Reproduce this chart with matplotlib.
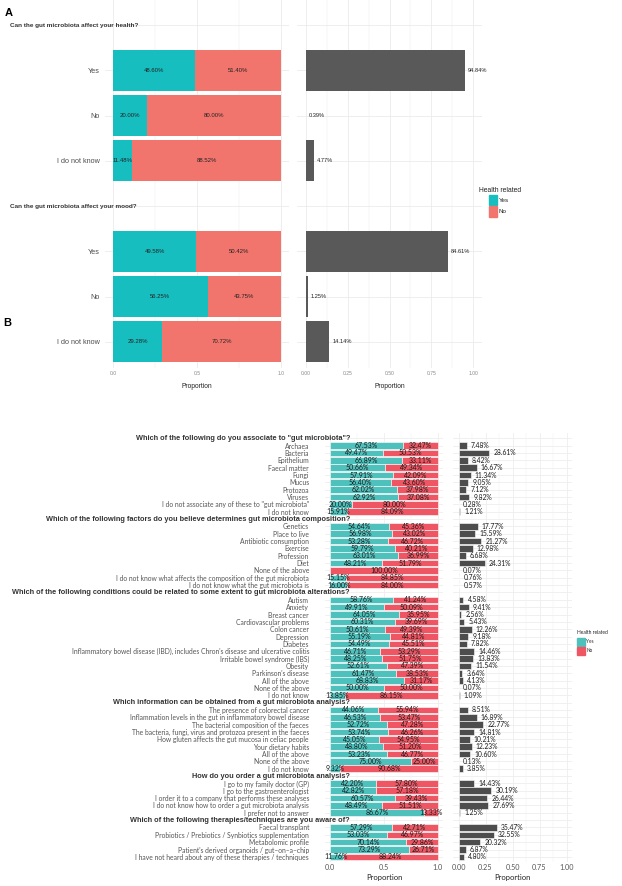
import numpy as np
import matplotlib
matplotlib.use('Agg')
import matplotlib.pyplot as plt
import matplotlib.transforms as mtransforms
from matplotlib.patches import Rectangle

plt.rcParams['font.family'] = ['Liberation Sans', 'DejaVu Sans']

W, H = 622, 886

# ======= PANEL A DATA =======
a_titles = ['Can the gut microbiota affect your health?',
            'Can the gut microbiota affect your mood?']
a_answers = ['Yes', 'No', 'I do not know']
health_yes = [48.60, 20.00, 11.48]
health_share = [94.84, 0.39, 4.77]
mood_yes = [49.58, 56.25, 29.28]
mood_share = [84.61, 1.25, 14.14]

# ======= PANEL B DATA =======
q1_title = 'Which of the following do you associate to "gut microbiota"?'
q1_items = ['Archaea', 'Bacteria', 'Epithelium', 'Faecal matter', 'Fungi', 'Mucus',
            'Protozoa', 'Viruses', 'I do not associate any of these to "gut microbiota"',
            'I do not know']
q1_yes = [67.53, 49.47, 66.89, 50.66, 57.91, 56.40, 62.02, 62.92, 20.00, 15.91]
q1_share = [7.48, 28.61, 8.42, 16.67, 11.34, 9.05, 7.12, 9.82, 0.28, 1.21]

q2_title = 'Which of the following factors do you believe determines gut microbiota composition?'
q2_items = ['Genetics', 'Place to live', 'Antibiotic consumption', 'Exercise', 'Profession',
            'Diet', 'None of the above',
            'I do not know what affects the composition of the gut microbiota',
            'I do not know what the gut microbiota is']
q2_yes = [54.64, 56.98, 53.28, 59.79, 63.01, 48.21, 0.00, 15.15, 16.00]
q2_share = [17.77, 15.59, 21.27, 12.98, 6.68, 24.31, 0.07, 0.76, 0.57]

q3_title = 'Which of the following conditions could be related to some extent to gut microbiota alterations?'
q3_items = ['Autism', 'Anxiety', 'Breast cancer', 'Cardiovascular problems', 'Colon cancer',
            'Depression', 'Diabetes',
            "Inflammatory bowel disease (IBD), includes Chron's disease and ulcerative colitis",
            'Irritable bowel syndrome (IBS)', 'Obesity', "Parkinson's disease",
            'All of the above', 'None of the above', 'I do not know']
q3_yes = [58.76, 49.91, 64.05, 60.31, 50.61, 55.19, 54.49, 46.71, 48.25, 52.61, 61.47,
          68.83, 50.00, 13.85]
q3_share = [4.58, 9.41, 2.56, 5.43, 12.26, 9.18, 7.82, 14.46, 13.83, 11.54, 3.64,
            4.13, 0.07, 1.09]

q4_title = 'Which information can be obtained from a gut microbiota analysis?'
q4_items = ['The presence of colorectal cancer',
            'Inflammation levels in the gut in inflammatory bowel disease',
            'The bacterial composition of the faeces',
            'The bacteria, fungi, virus and protozoa present in the faeces',
            'How gluten affects the gut mucosa in celiac people',
            'Your dietary habits', 'All of the above', 'None of the above', 'I do not know']
q4_yes = [44.06, 46.53, 52.72, 53.74, 45.05, 48.80, 53.23, 75.00, 9.32]
q4_share = [8.51, 16.89, 22.77, 14.81, 10.21, 12.23, 10.60, 0.13, 3.85]

q5_title = 'How do you order a gut microbiota analysis?'
q5_items = ['I go to my family doctor (GP)', 'I go to the gastroenterologist',
            'I order it to a company that performs these analyses',
            'I do not know how to order a gut microbiota analysis',
            'I prefer not to answer']
q5_yes = [42.20, 42.82, 60.57, 48.49, 86.67]
q5_share = [14.43, 30.19, 26.44, 27.69, 1.25]

q6_title = 'Which of the following therapies/techniques are you aware of?'
q6_items = ['Faecal transplant', 'Probiotics / Prebiotics / Synbiotics supplementation',
            'Metabolomic profile', "Patient's derived organoids / gut\u2013on\u2013a\u2013chip",
            'I have not heard about any of these therapies / techniques']
q6_yes = [57.29, 53.03, 70.14, 73.29, 11.76]
q6_share = [35.47, 32.55, 20.32, 6.87, 4.80]

legend_labels = ['Yes', 'No']


def build_rows(blocks):
    # one title row followed by one row per answer
    labels, titles, yes, share = [], [], [], []
    for title, items, y, s in blocks:
        labels.append('')
        titles.append((len(labels) - 1, title))
        yes.append(np.nan)
        share.append(np.nan)
        labels += items
        yes += y
        share += s
    return labels, titles, np.array(yes) / 100, np.array(share) / 100


def px_axes(fig, x0, y0, x1, y1):
    return fig.add_axes([x0 / W, 1 - y1 / H, (x1 - x0) / W, (y1 - y0) / H])


def style_axes(ax, nrows, ylim, major, minor, grid_c):
    ax.set_xlim(-0.05, 1.05)
    ax.set_ylim(*ylim)
    ax.set_xticks(major)
    ax.set_xticks(minor, minor=True)
    ax.set_yticks(np.arange(nrows))
    ax.grid(which='major', color=grid_c, lw=0.6)
    ax.grid(which='minor', axis='x', color=grid_c, lw=0.3)
    ax.set_axisbelow(True)
    for sp in ax.spines.values():
        sp.set_visible(False)
    ax.tick_params(which='both', length=0)


def px_legend(fig, x, y, colors, title, fs_title, fs, key_dx, key_w, key_h, gap, **kw):
    # legend drawn in pixel units (ggplot style, keys under the title)
    fig.text(x / W, 1 - y / H, title, fontsize=fs_title, color='#222222', va='center', **kw)
    top = y + 5
    for c, lab in zip(colors, legend_labels):
        fig.add_artist(Rectangle(((x + key_dx) / W, 1 - (top + key_h) / H), key_w / W,
                                 key_h / H, transform=fig.transFigure, color=c))
        fig.text((x + key_dx + key_w + 1.5) / W, 1 - (top + key_h / 2) / H, lab,
                 fontsize=fs, color='#222222', va='center', **kw)
        top += key_h + gap


fig = plt.figure(figsize=(W / 100, H / 100), dpi=100)

# ======= PANEL A =======
a_labels, a_tit, a_yes, a_share = build_rows([
    (a_titles[0], a_answers, health_yes, health_share),
    (a_titles[1], a_answers, mood_yes, mood_share)])
nA = len(a_labels)
ylimA = (7.58, -0.553)
teal_a, red_a, grey_a = '#17BEC0', '#F2756D', '#595959'
rows = np.arange(nA)

axA1 = px_axes(fig, 104.6, 0, 289.4, 368)
style_axes(axA1, nA, ylimA, [0, 0.5, 1.0], [0.25, 0.75], '#EBEBEB')
no_a = 1 - a_yes
axA1.barh(rows, a_yes, height=0.9, color=teal_a)
axA1.barh(rows, no_a, left=a_yes, height=0.9, color=red_a)
for r in rows:
    if np.isnan(a_yes[r]):
        continue
    if a_yes[r] > 0:
        axA1.text(a_yes[r] / 2, r, f'{a_yes[r] * 100:.2f}%', ha='center', va='center',
                  fontsize=4.3, color='#222222')
    axA1.text(a_yes[r] + no_a[r] / 2, r, f'{no_a[r] * 100:.2f}%', ha='center', va='center',
              fontsize=4.3, color='#222222')
axA1.set_yticklabels(a_labels, fontsize=5.2, color='#4D4D4D')
axA1.tick_params(axis='y', pad=3.3)
axA1.set_xticklabels(['0.0', '0.5', '1.0'], fontsize=3.6, color='#888888')
axA1.tick_params(axis='x', pad=2.5)
axA1.set_xlabel('Proportion', fontsize=4.8, color='#222222', labelpad=5)
tr = mtransforms.blended_transform_factory(fig.transFigure, axA1.transData)
for r, t in a_tit:
    axA1.text(10 / W, r, t, transform=tr, ha='left', va='center', fontsize=4.6,
              color='#333333', fontweight='semibold')

axA2 = px_axes(fig, 297.3, 0, 481.7, 368)
style_axes(axA2, nA, ylimA, [0, 0.25, 0.5, 0.75, 1.0], [0.125, 0.375, 0.625, 0.875], '#EBEBEB')
axA2.barh(rows, a_share, height=0.9, color=grey_a)
for r in rows:
    if not np.isnan(a_share[r]):
        axA2.annotate(f'{a_share[r] * 100:.2f}%', (a_share[r], r), xytext=(2, 0),
                      textcoords='offset points', ha='left', va='center',
                      fontsize=4.1, color='#222222')
axA2.set_yticklabels([])
axA2.set_xticklabels(['0.00', '0.25', '0.50', '0.75', '1.00'], fontsize=3.6, color='#888888')
axA2.tick_params(axis='x', pad=2.5)
axA2.set_xlabel('Proportion', fontsize=4.8, color='#222222', labelpad=5)

px_legend(fig, 479, 190, [teal_a, red_a], 'Health related', 4.9, 4.5,
          key_dx=10, key_w=8, key_h=10, gap=1.5)

fig.text(5 / W, 1 - 13 / H, 'A', fontsize=8, fontweight='bold', va='center')
fig.text(3 / W, 1 - 323 / H, 'B', fontsize=8, fontweight='bold', va='center')

# ======= PANEL B =======
b_labels, b_tit, b_yes, b_share = build_rows([
    (q1_title, q1_items, q1_yes, q1_share),
    (q2_title, q2_items, q2_yes, q2_share),
    (q3_title, q3_items, q3_yes, q3_share),
    (q4_title, q4_items, q4_yes, q4_share),
    (q5_title, q5_items, q5_yes, q5_share),
    (q6_title, q6_items, q6_yes, q6_share)])
nB = len(b_labels)
ylimB = (57.7, -0.72)
teal_b, red_b, grey_b = '#4EC1BC', '#EF5664', '#4D4D4D'
rowsB = np.arange(nB)
bfont = ['Lato', 'DejaVu Sans']

axB1 = px_axes(fig, 324.6, 433, 443.4, 862)
style_axes(axB1, nB, ylimB, [0, 0.5, 1.0], [0.25, 0.75], '#EEEEEE')
no_b = 1 - b_yes
axB1.barh(rowsB, b_yes, height=0.9, color=teal_b, edgecolor='white', lw=0.4)
axB1.barh(rowsB, no_b, left=b_yes, height=0.9, color=red_b, edgecolor='white', lw=0.4)
for r in rowsB:
    if np.isnan(b_yes[r]):
        continue
    if b_yes[r] > 0:
        axB1.text(b_yes[r] / 2, r, f'{b_yes[r] * 100:.2f}%', ha='center', va='center',
                  fontsize=5.0, color='#1A1A1A', family=bfont)
    axB1.text(b_yes[r] + no_b[r] / 2, r, f'{no_b[r] * 100:.2f}%', ha='center', va='center',
              fontsize=5.0, color='#1A1A1A', family=bfont)
axB1.set_yticklabels(b_labels, fontsize=4.9, color='#555555', family=bfont)
axB1.tick_params(axis='y', pad=11.2)
axB1.set_xticklabels(['0.0', '0.5', '1.0'], fontsize=5.2, color='#555555', family=bfont)
axB1.tick_params(axis='x', pad=1.5)
axB1.set_xlabel('Proportion', fontsize=5.5, color='#222222', labelpad=2, family=bfont)
trB = mtransforms.blended_transform_factory(fig.transFigure, axB1.transData)
for r, t in b_tit:
    axB1.text(350 / W, r, t, transform=trB, ha='right', va='center', fontsize=5.3,
              color='#333333', fontweight='bold')

axB2 = px_axes(fig, 453.1, 433, 571.9, 862)
style_axes(axB2, nB, ylimB, [0, 0.25, 0.5, 0.75, 1.0], [0.125, 0.375, 0.625, 0.875], '#EEEEEE')
axB2.barh(rowsB, b_share, height=0.9, color=grey_b, edgecolor='white', lw=0.4)
for r in rowsB:
    if not np.isnan(b_share[r]):
        axB2.annotate(f'{b_share[r] * 100:.2f}%', (b_share[r], r), xytext=(3, 0),
                      textcoords='offset points', ha='left', va='center',
                      fontsize=4.9, color='#1A1A1A', family=bfont)
axB2.set_yticklabels([])
axB2.set_xticklabels(['0.00', '0.25', '0.50', '0.75', '1.00'], fontsize=5.2,
                     color='#555555', family=bfont)
axB2.tick_params(axis='x', pad=1.5)
axB2.set_xlabel('Proportion', fontsize=5.5, color='#222222', labelpad=2, family=bfont)

px_legend(fig, 577, 633, [teal_b, red_b], 'Health related', 3.5, 3.4,
          key_dx=0, key_w=8, key_h=7.5, gap=1.5, family=bfont)

fig.savefig('out.png', dpi=100, facecolor='white')
